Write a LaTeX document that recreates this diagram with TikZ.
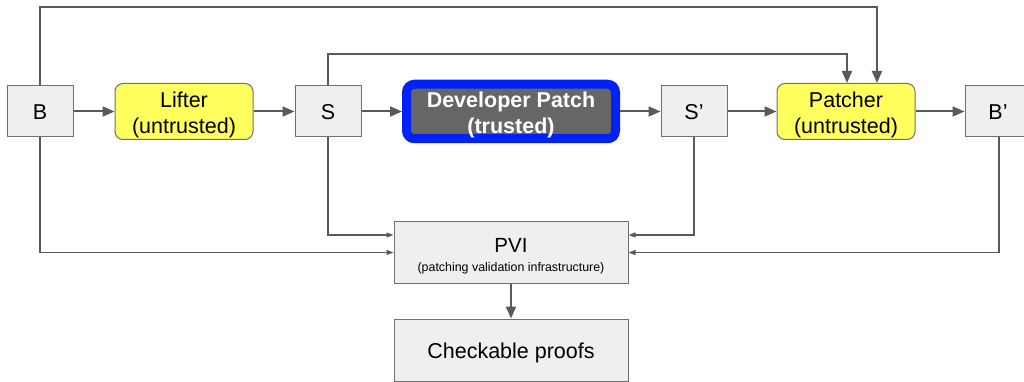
\documentclass[tikz,border=0pt]{standalone}
\usepackage{fontspec}
\setmainfont{Liberation Sans}
\usetikzlibrary{arrows.meta}
\definecolor{boxfill}{HTML}{EFEFEF}
\definecolor{boxline}{HTML}{707070}
\definecolor{arrowc}{HTML}{5A5A5A}
\definecolor{yel}{HTML}{FFFF5E}
\definecolor{devfill}{HTML}{666666}
\definecolor{devblue}{HTML}{0022F5}
\begin{document}
\begin{tikzpicture}[x=1pt,y=-1pt,
  bigfont/.style={font=\fontsize{21.5}{26}\selectfont},
  gbox/.style={draw=boxline, fill=boxfill, line width=1pt, inner sep=0pt, align=center, bigfont},
  smallbox/.style={gbox, minimum width=66pt, minimum height=51pt},
  widebox/.style={gbox, minimum width=234pt, minimum height=61.5pt},
  ybox/.style={draw=boxline, fill=yel, rounded corners=8pt, line width=1pt, minimum width=138pt, minimum height=56pt, inner sep=0pt, align=center, bigfont},
  devbox/.style={draw=devblue, fill=devfill, line width=9pt, outer sep=4.5pt, rounded corners=8pt, minimum width=209pt, minimum height=54.5pt, inner sep=0pt, align=center, text=white, font=\fontsize{21.5}{26}\selectfont\bfseries},
  flow/.style={draw=arrowc, line width=2pt, -{Triangle[length=12pt,width=10pt]}},
  thinflow/.style={draw=arrowc, line width=1.2pt, -{Triangle[length=7pt,width=5pt]}},
]
\useasboundingbox[fill=white] (0,0) rectangle (1024,382);

\node[smallbox] (B) at (40,111.5) {\rule{0pt}{17pt}B};
\node[ybox] (L) at (184,111.5) {\rule{0pt}{23pt}Lifter\\(untrusted)};
\node[smallbox] (S) at (328,111.5) {\rule{0pt}{17pt}S};
\node[devbox] (D) at (511,111.5) {\rule{0pt}{23pt}Developer Patch\\(trusted)};
\node[smallbox] (Sp) at (694,111.5) {\rule{0pt}{17pt}S’};
\node[ybox] (P) at (846,111.5) {\rule{0pt}{23pt}Patcher\\(untrusted)};
\node[smallbox] (Bp) at (998,111.5) {\rule{0pt}{17pt}B’};

\node[widebox] (PVI) at (511,252.5) {};
\node[anchor=base, font=\fontsize{20.5}{22}\selectfont, inner sep=0pt] (pvit) at (511,252.3) {PVI};
\node[anchor=base, font=\fontsize{12.4}{14}\selectfont, inner sep=0pt] (pvis) at (511,271) {(patching validation infrastructure)};
\node[gbox, minimum width=234pt, minimum height=62pt] (C) at (511,350) {\rule{0pt}{21pt}Checkable proofs};

% main flow
\draw[flow] (B.east) -- (L.west);
\draw[flow] (L.east) -- (S.west);
\draw[flow] (S.east) -- (D.west);
\draw[flow] (D.east) -- (Sp.west);
\draw[flow] (Sp.east) -- (P.west);
\draw[flow] (P.east) -- (Bp.west);

% top bypasses
\draw[flow] (B.north) -- (40,7) -| ([xshift=31pt]P.north);
\draw[flow] (S.north) -- (328,54) -| ([xshift=1pt]P.north);

% thin lines to PVI
\draw[thinflow] (B.south) |- (PVI.west);
\draw[thinflow] (S.south) |- ([yshift=17.5pt]PVI.west);
\draw[thinflow] (Sp.south) |- ([yshift=17.5pt]PVI.east);
\draw[thinflow] ([xshift=1pt]Bp.south) |- (PVI.east);

% PVI to proofs
\draw[flow] (PVI.south) -- (C.north);
\end{tikzpicture}
\end{document}
